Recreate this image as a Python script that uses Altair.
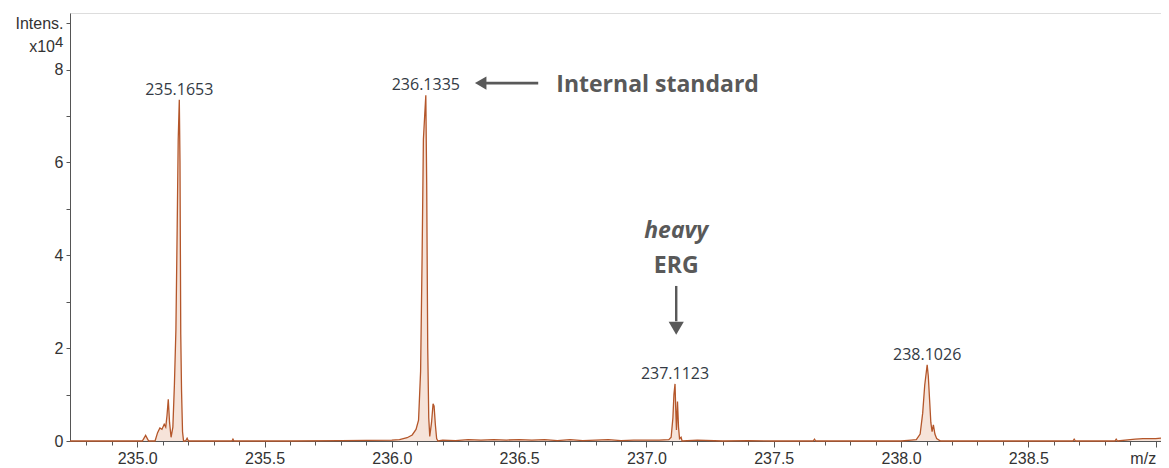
import altair as alt
import pandas as pd

# ---- spectrum profile (m/z, intensity x10^4) ----
mz = [234.736, 235.000, 235.020, 235.033, 235.045, 235.070, 235.080, 235.089, 235.097,
      235.106, 235.112, 235.117, 235.122, 235.127, 235.133, 235.140, 235.146, 235.152,
      235.157, 235.161, 235.1653, 235.168, 235.171, 235.174, 235.178, 235.182, 235.190,
      235.196, 235.201, 235.300, 235.372, 235.376, 235.380, 235.600, 235.800, 236.000,
      236.030, 236.060, 236.080, 236.095, 236.105, 236.113, 236.119, 236.124, 236.129,
      236.1335, 236.137, 236.141, 236.145, 236.149, 236.156, 236.162, 236.166, 236.171,
      236.176, 236.181, 236.200, 236.250, 236.300, 236.350, 236.400, 236.450, 236.500,
      236.550, 236.600, 236.650, 236.700, 236.750, 236.800, 236.850, 236.900, 236.950,
      237.000, 237.050, 237.088, 237.097, 237.104, 237.108, 237.1123, 237.115, 237.118,
      237.122, 237.126, 237.130, 237.136, 237.140, 237.200, 237.300, 237.400, 237.500,
      237.600, 237.655, 237.660, 237.665, 237.800, 238.000, 238.040, 238.060, 238.075,
      238.085, 238.093, 238.1026, 238.107, 238.112, 238.117, 238.122, 238.127, 238.133,
      238.140, 238.155, 238.300, 238.500, 238.675, 238.680, 238.685, 238.840, 238.845,
      238.850, 238.900, 238.920, 238.950, 239.000, 239.021]
intensity = [0.00, 0.00, 0.00, 0.12, 0.00, 0.00, 0.18, 0.28, 0.25,
             0.36, 0.30, 0.55, 0.90, 0.40, 0.08, 0.30, 1.20, 2.40,
             4.60, 6.50, 7.35, 6.00, 2.30, 1.10, 0.20, 0.00, 0.00,
             0.06, 0.00, 0.00, 0.00, 0.04, 0.00, 0.00, 0.01, 0.02,
             0.03, 0.07, 0.13, 0.25, 0.45, 1.50, 4.00, 6.50, 7.00,
             7.45, 5.50, 2.00, 0.50, 0.10, 0.40, 0.80, 0.75, 0.35,
             0.05, 0.00, 0.02, 0.01, 0.03, 0.02, 0.03, 0.02, 0.03,
             0.02, 0.03, 0.01, 0.03, 0.01, 0.02, 0.03, 0.01, 0.02,
             0.02, 0.02, 0.03, 0.08, 0.50, 1.00, 1.23, 0.70, 0.24,
             0.85, 0.30, 0.05, 0.08, 0.00, 0.02, 0.00, 0.01, 0.00,
             0.00, 0.00, 0.04, 0.00, 0.00, 0.00, 0.02, 0.03, 0.15,
             0.60, 1.20, 1.64, 1.40, 0.90, 0.40, 0.20, 0.35, 0.15,
             0.05, 0.00, 0.00, 0.00, 0.00, 0.04, 0.00, 0.00, 0.04,
             0.00, 0.03, 0.04, 0.05, 0.05, 0.06]

# ---- peak labels ----
peak_labels = ["235.1653", "236.1335", "237.1123", "238.1026"]
peak_mz = [235.1653, 236.1335, 237.1123, 238.1026]
peak_int = [7.35, 7.45, 1.23, 1.64]

# ---- axis ticks ----
x_major = [235.0, 235.5, 236.0, 236.5, 237.0, 237.5, 238.0, 238.5, 239.0]
x_minor = [round(234.8 + 0.1 * i, 1) for i in range(43)]
y_ticks = [0, 1, 2, 3, 4, 5, 6, 7, 8, 9]

# ---- annotations ----
is_text = ["Internal standard"]
is_text_mz = [236.646]
is_text_int = [7.52]
is_arrow_mz = [236.37, 236.575]
is_arrow_int = [7.71, 7.71]
is_head_mz = [236.349]
is_head_int = [7.71]

erg_text = ["heavy", "ERG"]
erg_style = ["italic", "normal"]
erg_text_int = [4.375, 3.62]
erg_mz = 237.117
erg_arrow_int = [3.34, 2.58]
erg_head_int = [2.43]

XDOM = [234.736, 239.021]
YDOM = [0, 9.22]
W, H = 1091, 428
LINE = "#b4562a"
FILL = "#f6e3d9"
ANN = "#595959"

spec = pd.DataFrame({"mz": mz, "intensity": intensity})
xs = alt.Scale(domain=XDOM, nice=False, zero=False)
ys = alt.Scale(domain=YDOM, nice=False)

area = alt.Chart(spec).mark_area(
    color=FILL, opacity=1,
    line={"color": LINE, "strokeWidth": 1.3},
).encode(
    x=alt.X("mz:Q", scale=xs, title=None,
            axis=alt.Axis(values=x_major, format=".1f", tickSize=6, grid=False,
                          labelExpr="datum.value > 238.95 ? 'm/z' : datum.label",
                          labelAlign={"condition": {"test": "datum.value > 238.95", "value": "right"},
                                      "value": "center"},
                          labelFont="Liberation Sans", labelFontSize=16,
                          labelColor="#333333", labelPadding=3, tickColor="#555555",
                          domainColor="#555555", orient="bottom", labelFlush=False,
                          labelOverlap=False)),
    y=alt.Y("intensity:Q", scale=ys, title=None,
            axis=alt.Axis(values=y_ticks, tickSize=4, grid=False,
                          labelExpr="datum.value == 9 ? 'Intens.' : (datum.value % 2 == 0 ? datum.label : '')",
                          labelFont="Liberation Sans", labelFontSize=16,
                          labelColor="#333333", labelPadding=3, tickColor="#555555",
                          domainColor="#555555", labelFlush=False, labelOverlap=False)),
)

peaks = pd.DataFrame({"label": peak_labels, "mz": peak_mz, "intensity": peak_int})
peak_text = alt.Chart(peaks).mark_text(
    font="Open Sans", fontSize=16, color="#333a44", baseline="alphabetic", dy=-5,
).encode(
    x=alt.X("mz:Q", scale=xs, title=None,
            axis=alt.Axis(values=x_minor, labels=False, tickSize=4, domain=False,
                          grid=False, tickColor="#555555", orient="bottom")),
    y=alt.Y("intensity:Q", scale=ys, title=None, axis=None),
    text="label:N",
)

is_df = pd.DataFrame({"t": is_text, "mz": is_text_mz, "intensity": is_text_int})
is_label = alt.Chart(is_df).mark_text(
    font="Open Sans", fontSize=23, fontWeight="bold", color=ANN, align="left",
    baseline="alphabetic",
).encode(
    x=alt.X("mz:Q", scale=xs, axis=None),
    y=alt.Y("intensity:Q", scale=ys, axis=None),
    text="t:N",
)

is_line_df = pd.DataFrame({"mz": [is_arrow_mz[0]], "mz2": [is_arrow_mz[1]],
                           "intensity": [is_arrow_int[0]]})
is_line = alt.Chart(is_line_df).mark_rule(color=ANN, strokeWidth=2.6).encode(
    x=alt.X("mz:Q", scale=xs, axis=None), x2="mz2:Q",
    y=alt.Y("intensity:Q", scale=ys, axis=None),
)
is_head = alt.Chart(pd.DataFrame({"mz": is_head_mz, "intensity": is_head_int})).mark_point(
    shape="triangle-left", filled=True, size=175, color=ANN, opacity=1,
).encode(
    x=alt.X("mz:Q", scale=xs, axis=None),
    y=alt.Y("intensity:Q", scale=ys, axis=None),
)

erg_df = pd.DataFrame({"t": erg_text, "style": erg_style, "intensity": erg_text_int,
                       "mz": [erg_mz, erg_mz]})
erg_heavy = alt.Chart(erg_df[erg_df["style"] == "italic"]).mark_text(
    font="Open Sans", fontSize=23, fontWeight="bold", fontStyle="italic", color=ANN,
    align="center", baseline="alphabetic",
).encode(
    x=alt.X("mz:Q", scale=xs, axis=None),
    y=alt.Y("intensity:Q", scale=ys, axis=None),
    text="t:N",
)
erg_label = alt.Chart(erg_df[erg_df["style"] == "normal"]).mark_text(
    font="Open Sans", fontSize=23, fontWeight="bold", color=ANN,
    align="center", baseline="alphabetic",
).encode(
    x=alt.X("mz:Q", scale=xs, axis=None),
    y=alt.Y("intensity:Q", scale=ys, axis=None),
    text="t:N",
)
erg_line = alt.Chart(pd.DataFrame({"mz": [erg_mz], "i1": [erg_arrow_int[0]],
                                   "i2": [erg_arrow_int[1]]})).mark_rule(
    color=ANN, strokeWidth=2.4).encode(
    x=alt.X("mz:Q", scale=xs, axis=None),
    y=alt.Y("i1:Q", scale=ys, axis=None), y2="i2:Q",
)
erg_head = alt.Chart(pd.DataFrame({"mz": [erg_mz], "intensity": erg_head_int})).mark_point(
    shape="triangle-down", filled=True, size=230, color=ANN, opacity=1,
).encode(
    x=alt.X("mz:Q", scale=xs, axis=None),
    y=alt.Y("intensity:Q", scale=ys, axis=None),
)

one = pd.DataFrame({"k": [0]})
x10 = alt.Chart(one).mark_text(
    font="Liberation Sans", fontSize=16, color="#333333", align="right", baseline="alphabetic",
).encode(x=alt.value(-15), y=alt.value(38.7), text=alt.value("x10"))
sup4 = alt.Chart(one).mark_text(
    font="Liberation Sans", fontSize=15, color="#333333", align="left", baseline="alphabetic",
).encode(x=alt.value(-15), y=alt.value(33.7), text=alt.value("4"))

chart = alt.layer(
    area, peak_text, is_label, is_line, is_head, erg_heavy, erg_label, erg_line, erg_head,
    x10, sup4,
).resolve_axis(x="independent", y="independent").properties(
    width=W, height=H,
    autosize="none",
    padding={"left": 62, "top": 5, "right": 0, "bottom": 27},
).configure_view(stroke="#8a8a8a", strokeWidth=1).configure(background="white")

chart.save("out.html", embed_options={"renderer": "svg", "actions": False})
